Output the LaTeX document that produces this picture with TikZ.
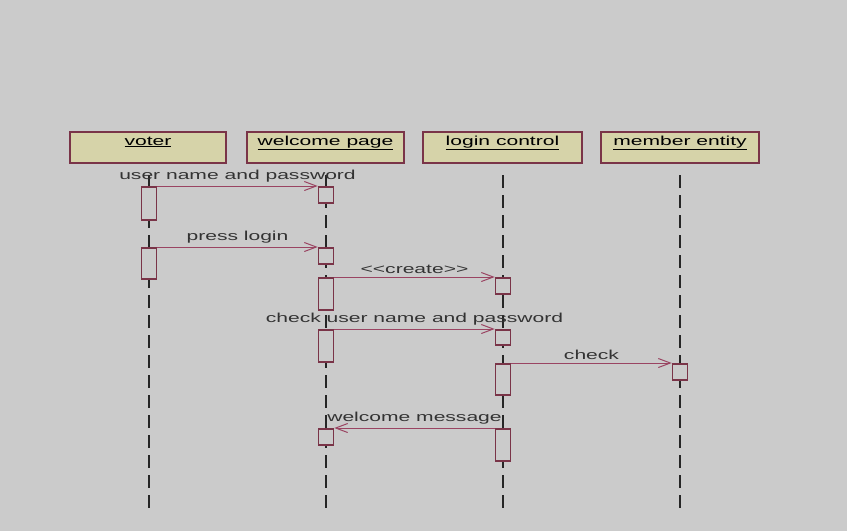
\documentclass[tikz,border=0pt]{standalone}
\usepackage{fontspec}
\setmainfont{Liberation Sans}[FakeStretch=1.62]
\usepackage{tikz}
\usetikzlibrary{positioning, arrows.meta}
\definecolor{bg}{HTML}{CBCBCB}
\definecolor{headfill}{HTML}{D6D3A9}
\definecolor{wine}{HTML}{7A3448}
\definecolor{msgcol}{HTML}{9A4462}

\begin{document}
\begin{tikzpicture}[x=1pt, y=-1pt,
  font=\fontsize{13}{15}\selectfont,
  head/.style={draw=wine, line width=1.6pt, fill=headfill, minimum height=31pt,
    text height=10pt, text depth=15pt, inner ysep=3pt},
  act/.style={draw=wine, line width=1.5pt, fill=bg, minimum width=15pt, anchor=north, inner sep=0pt},
  life/.style={line width=1.8pt, black!85, dash pattern=on 13pt off 7pt},
  msg/.style={msgcol, line width=1pt, -{Straight Barb[length=12pt, width=9pt]}}]
% background
\fill[bg] (0,0) rectangle (847,531);
\useasboundingbox (0,0) rectangle (847,531);

% heads
\node[head, minimum width=156pt] (voter) at (148,147.5) {\underline{voter}};
\node[head, minimum width=157pt] (page) at (325.5,147.5) {\underline{welcome page}};
\node[head, minimum width=159pt] (ctrl) at (502.5,147.5) {\underline{login control}};
\node[head, minimum width=158pt] (entity) at (680,147.5) {\underline{member entity}};

% lifelines
\foreach \n/\x in {voter/149, page/326, ctrl/503, entity/680}
  \draw[life] (\x,175) -- (\x,510);

% activation boxes
\node[act, minimum height=33pt] (v1) at (149,186) {};
\node[act, minimum height=16pt] (p1) at (326,186) {};
\node[act, minimum height=31pt] (v2) at (149,247) {};
\node[act, minimum height=16pt] (p2) at (326,247) {};
\node[act, minimum height=32pt] (p3) at (326,277) {};
\node[act, minimum height=16pt] (c1) at (503,277) {};
\node[act, minimum height=32pt] (p4) at (326,329) {};
\node[act, minimum height=15pt] (c2) at (503,329) {};
\node[act, minimum height=31pt] (c3) at (503,363) {};
\node[act, minimum height=16pt] (e1) at (680,363) {};
\node[act, minimum height=32pt] (c4) at (503,428) {};
\node[act, minimum height=16pt] (p5) at (326,428) {};

% messages
\draw[msg] (v1.north east) -- (p1.north west) node[midway, above=0pt, black!80] {user name and password};
\draw[msg] (v2.north east) -- (p2.north west) node[midway, above=0pt, black!80] {press login};
\draw[msg] (p3.north east) -- (c1.north west) node[midway, above=0pt, black!80] {\textless{}\textless{}create\textgreater{}\textgreater{}};
\draw[msg] (p4.north east) -- (c2.north west) node[midway, above=0pt, black!80] {check user name and password};
\draw[msg] (c3.north east) -- (e1.north west) node[midway, above=0pt, black!80] {check};
\draw[msg] (c4.north west) -- (p5.north east) node[midway, above=0pt, black!80] {welcome message};
\end{tikzpicture}
\end{document}
